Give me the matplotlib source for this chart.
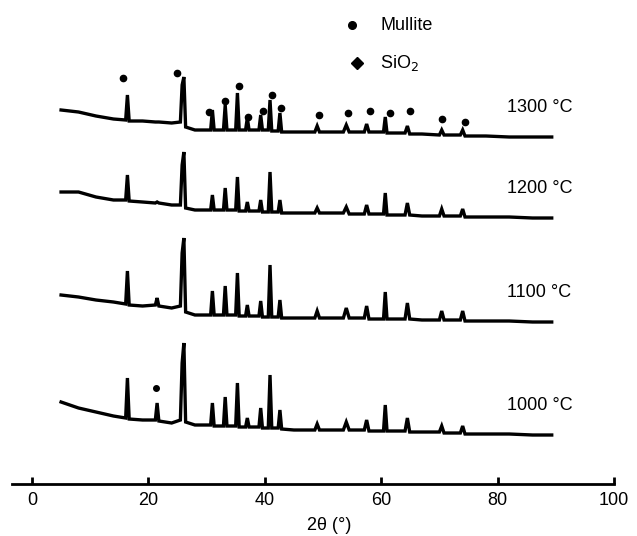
import numpy as np
import matplotlib
matplotlib.use('Agg')
import matplotlib.pyplot as plt

plt.rcParams['font.family'] = ['Liberation Sans', 'DejaVu Sans']

# vertices of the patterns (2theta, degrees)
two_theta = [5, 8, 11, 14, 16.1, 16.4, 16.7, 19, 21.2, 21.5, 21.8, 24, 25.5, 25.8, 26.1, 26.4,
             28, 30.7, 31.0, 31.3, 32.9, 33.2, 33.5, 35.0, 35.3, 35.6, 36.7, 37.0, 37.3,
             39.0, 39.3, 39.6, 40.6, 40.9, 41.2, 42.3, 42.6, 42.9, 45, 48.6, 49.0, 49.4,
             53.5, 54.0, 54.5, 57.1, 57.5, 57.9, 60.4, 60.7, 61.0, 64.1, 64.5, 64.9, 67,
             70.0, 70.4, 70.8, 73.6, 74.0, 74.4, 78, 82, 86, 89.3]

# intensities (a.u.)
i_1300 = [27, 25, 21, 18, 17, 42, 16, 16, 15, 15, 15, 14, 15, 52, 60, 10,
          7, 7, 27, 7, 7, 32, 7, 7, 44, 7, 7, 19, 7,
          7, 22, 7, 7, 37, 6, 6, 24, 5, 5, 5, 11, 5,
          5, 12, 5, 5, 13, 5, 5, 20, 4, 4, 11, 3, 3,
          2, 7, 2, 2, 7, 1, 1, 0, 0, 0]
i_1200 = [26, 26, 21, 18, 18, 43, 17, 16, 15, 16, 15, 13, 13, 53, 66, 10,
          8, 8, 23, 8, 8, 30, 8, 8, 41, 7, 7, 16, 7,
          7, 18, 6, 6, 46, 6, 6, 18, 5, 5, 5, 10, 5,
          5, 11, 4, 4, 13, 4, 4, 25, 3, 3, 15, 3, 2,
          2, 9, 2, 2, 9, 1, 1, 1, 0, 0]
i_1100 = [27, 25, 22, 20, 18, 51, 17, 16, 17, 24, 16, 14, 16, 69, 84, 10,
          7, 7, 31, 7, 7, 36, 7, 7, 49, 6, 6, 17, 6,
          6, 21, 5, 5, 57, 5, 5, 22, 4, 4, 4, 11, 4,
          4, 14, 4, 4, 16, 3, 3, 30, 3, 3, 19, 3, 2,
          2, 11, 2, 2, 11, 1, 1, 1, 0, 0]
i_1000 = [33, 27, 23, 19, 17, 57, 16, 15, 15, 32, 14, 12, 15, 72, 92, 13,
          10, 10, 32, 9, 9, 38, 9, 9, 52, 8, 8, 17, 8,
          8, 27, 7, 7, 60, 7, 7, 25, 6, 5, 5, 11, 5,
          5, 13, 5, 5, 15, 4, 4, 30, 4, 4, 17, 3, 3,
          3, 9, 2, 2, 9, 1, 1, 1, 0, 0]

temps = ['1000 °C', '1100 °C', '1200 °C', '1300 °C']
patterns = [i_1000, i_1100, i_1200, i_1300]
offsets = [49, 162, 266, 347]

# phase markers
mullite_tt = [15.6, 24.9, 30.4, 33.2, 35.6, 37.1, 39.7, 41.2, 42.8, 49.3, 54.3, 58.1, 61.5, 64.9, 70.4, 74.4]
mullite_i = [59, 64, 25, 36, 51, 20, 26, 42, 29, 22, 24, 26, 24, 26, 18, 15]
sio2_tt = [21.3]
sio2_i = [47]

fig = plt.figure(figsize=(6.37, 5.36), dpi=100)
ax = fig.add_axes([0.0182, 0.097, 0.9457, 0.903])

for pat, off, lab in zip(patterns, offsets, temps):
    y = np.array(pat) + off
    ax.plot(two_theta, y, color='black', lw=2.4, solid_joinstyle='miter')
    ax.text(81.6, y[-1] + 30, lab, fontsize=13, va='center', ha='left')

ax.plot(mullite_tt, np.array(mullite_i) + offsets[3], 'o', color='black', ms=4.5)
ax.plot(sio2_tt, np.array(sio2_i) + offsets[0], 'o', color='black', ms=4)

# legend drawn by hand
ax.plot([55.0], [459], 'o', color='black', ms=5.5)
ax.text(59.8, 459, 'Mullite', fontsize=13, va='center')
ax.plot([55.8], [421], 'D', color='black', ms=6)
ax.text(59.8, 421, 'SiO$_2$', fontsize=13, va='center')

ax.set_xlim(-3.5, 100)
ax.set_ylim(0, 484)
ax.set_xticks([0, 20, 40, 60, 80, 100])
ax.set_yticks([])
for s in ['top', 'left', 'right']:
    ax.spines[s].set_visible(False)
ax.spines['bottom'].set_linewidth(2)
ax.tick_params(axis='x', direction='in', length=5, width=2, labelsize=13, pad=6)
ax.set_xlabel('2θ (°)', fontsize=13)
ax.xaxis.set_label_coords(0.527, -0.068)

fig.savefig('out.png', dpi=100)
